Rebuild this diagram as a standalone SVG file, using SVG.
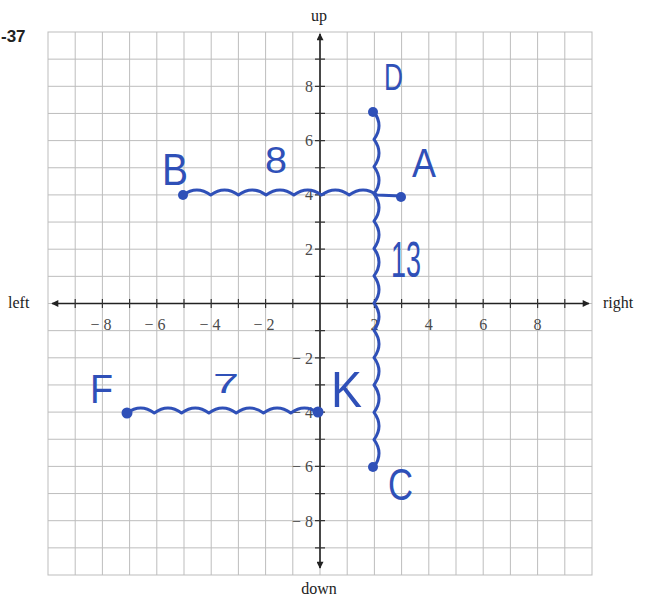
<svg xmlns="http://www.w3.org/2000/svg" width="651" height="600" viewBox="0 0 651 600">
<defs>
<style>
.grid{stroke:#bdbdbd;stroke-width:1;fill:none}
.axis{stroke:#222;stroke-width:1.6;fill:none}
.tick{stroke:#333;stroke-width:1.2}
.num{font-family:"Liberation Serif",serif;font-size:16px;fill:#4a4a4a}
.dir{font-family:"Liberation Serif",serif;font-size:16px;fill:#222}
.wave{stroke:#2f50b8;stroke-width:3;fill:none;stroke-linecap:round;stroke-linejoin:round}
.dot{fill:#2f50b8}
.hand{font-family:"Liberation Sans",sans-serif;fill:#2f50b8;font-weight:normal}
</style>
<marker id="ah" viewBox="0 0 10 10" refX="9" refY="5" markerWidth="10" markerHeight="7" orient="auto" markerUnits="userSpaceOnUse">
<path d="M0,0 L10,5 L0,10 z" fill="#222"/>
</marker>
</defs>
<rect width="651" height="600" fill="#fff"/>
<text x="1" y="42" font-family="Liberation Sans,sans-serif" font-weight="bold" font-size="17" fill="#222">-37</text>
<g id="grid" class="grid">
<rect x="48" y="32" width="544" height="543"/>
<path d="M75.2,32V575M102.4,32V575M129.6,32V575M156.8,32V575M184,32V575M211.2,32V575M238.4,32V575M265.6,32V575M292.8,32V575M320,32V575M347.2,32V575M374.4,32V575M401.6,32V575M428.8,32V575M456,32V575M483.2,32V575M510.4,32V575M537.6,32V575M564.8,32V575"/>
<path d="M48,59.15H592M48,86.3H592M48,113.45H592M48,140.6H592M48,167.75H592M48,194.9H592M48,222.05H592M48,249.2H592M48,276.35H592M48,303.5H592M48,330.65H592M48,357.8H592M48,384.95H592M48,412.1H592M48,439.25H592M48,466.4H592M48,493.55H592M48,520.7H592M48,547.85H592"/>
</g>
<g id="axes">
<line class="axis" x1="320" y1="303.5" x2="52" y2="303.5" marker-end="url(#ah)"/>
<line class="axis" x1="320" y1="303.5" x2="589" y2="303.5" marker-end="url(#ah)"/>
<line class="axis" x1="320" y1="303.5" x2="320" y2="34" marker-end="url(#ah)"/>
<line class="axis" x1="320" y1="303.5" x2="320" y2="568" marker-end="url(#ah)"/>
<path class="tick" d="M75.2,299V308M102.4,299V308M129.6,299V308M156.8,299V308M184,299V308M211.2,299V308M238.4,299V308M265.6,299V308M292.8,299V308M347.2,299V308M374.4,299V308M401.6,299V308M428.8,299V308M456,299V308M483.2,299V308M510.4,299V308M537.6,299V308M564.8,299V308"/>
<path class="tick" d="M315,59.15H325M315,86.3H325M315,113.45H325M315,140.6H325M315,167.75H325M315,194.9H325M315,222.05H325M315,249.2H325M315,276.35H325M315,330.65H325M315,357.8H325M315,384.95H325M315,412.1H325M315,439.25H325M315,466.4H325M315,493.55H325M315,520.7H325M315,547.85H325"/>
<g class="num" text-anchor="middle">
<text x="101" y="330">− 8</text>
<text x="155" y="330">− 6</text>
<text x="210" y="330">− 4</text>
<text x="264" y="330">− 2</text>
<text x="374.4" y="330">2</text>
<text x="428.8" y="330">4</text>
<text x="483.2" y="330">6</text>
<text x="537.6" y="330">8</text>
</g>
<g class="num" text-anchor="end">
<text x="313" y="92">8</text>
<text x="313" y="146">6</text>
<text x="313" y="200">4</text>
<text x="313" y="255">2</text>
<text x="313" y="364">− 2</text>
<text x="313" y="418">− 4</text>
<text x="313" y="472">− 6</text>
<text x="313" y="527">− 8</text>
</g>
<text class="dir" x="319" y="21" text-anchor="middle">up</text>
<text class="dir" x="319" y="594" text-anchor="middle">down</text>
<text class="dir" x="8" y="308">left</text>
<text class="dir" x="603" y="308">right</text>
</g>
<g id="connectors">
<path id="BA" class="wave" d="M183,195 q13.85,-10 27.7,0 q13.85,-10 27.7,0 q13.85,-10 27.7,0 q13.85,-10 27.7,0 q13.85,-10 27.7,0 q13.85,-10 27.7,0 q13.85,-10 27.7,0 L401,196"/>
<path id="DC" class="wave" d="M374,112 q10,13.65 0,27.3 q10,13.65 0,27.3 q10,13.65 0,27.3 q10,13.65 0,27.3 q10,13.65 0,27.3 q10,13.65 0,27.3 q10,13.65 0,27.3 q10,13.65 0,27.3 q10,13.65 0,27.3 q10,13.65 0,27.3 q10,13.65 0,27.3 q10,13.65 0,27.3 q10,13.65 0,27.3"/>
<path id="FK" class="wave" d="M127,413 q13.65,-10 27.3,0 q13.65,-10 27.3,0 q13.65,-10 27.3,0 q13.65,-10 27.3,0 q13.65,-10 27.3,0 q13.65,-10 27.3,0 q13.65,-10 27.3,0"/>
<text class="hand" x="265" y="173" font-size="36" textLength="22" lengthAdjust="spacingAndGlyphs">8</text>
<text class="hand" x="391" y="277" font-size="50" textLength="30" lengthAdjust="spacingAndGlyphs">13</text>
<text class="hand" x="213" y="393" font-size="28" textLength="26" lengthAdjust="spacingAndGlyphs">7</text>
</g>
<g id="A"><circle class="dot" cx="401" cy="197" r="5"/><text class="hand" x="412" y="177" font-size="41" textLength="24" lengthAdjust="spacingAndGlyphs">A</text></g>
<g id="B"><circle class="dot" cx="183" cy="195" r="5"/><text class="hand" x="162" y="185" font-size="44" textLength="26" lengthAdjust="spacingAndGlyphs">B</text></g>
<g id="C"><circle class="dot" cx="373" cy="467" r="5"/><text class="hand" x="388" y="500" font-size="45" textLength="25" lengthAdjust="spacingAndGlyphs">C</text></g>
<g id="D"><circle class="dot" cx="373" cy="112" r="5"/><text class="hand" x="384" y="90" font-size="37" textLength="19" lengthAdjust="spacingAndGlyphs">D</text></g>
<g id="F"><circle class="dot" cx="127" cy="413" r="5.5"/><text class="hand" x="90" y="403" font-size="41" textLength="23" lengthAdjust="spacingAndGlyphs">F</text></g>
<g id="K"><circle class="dot" cx="318" cy="412" r="5.5"/><text class="hand" x="331" y="407" font-size="50" textLength="31" lengthAdjust="spacingAndGlyphs">K</text></g>
</svg>
